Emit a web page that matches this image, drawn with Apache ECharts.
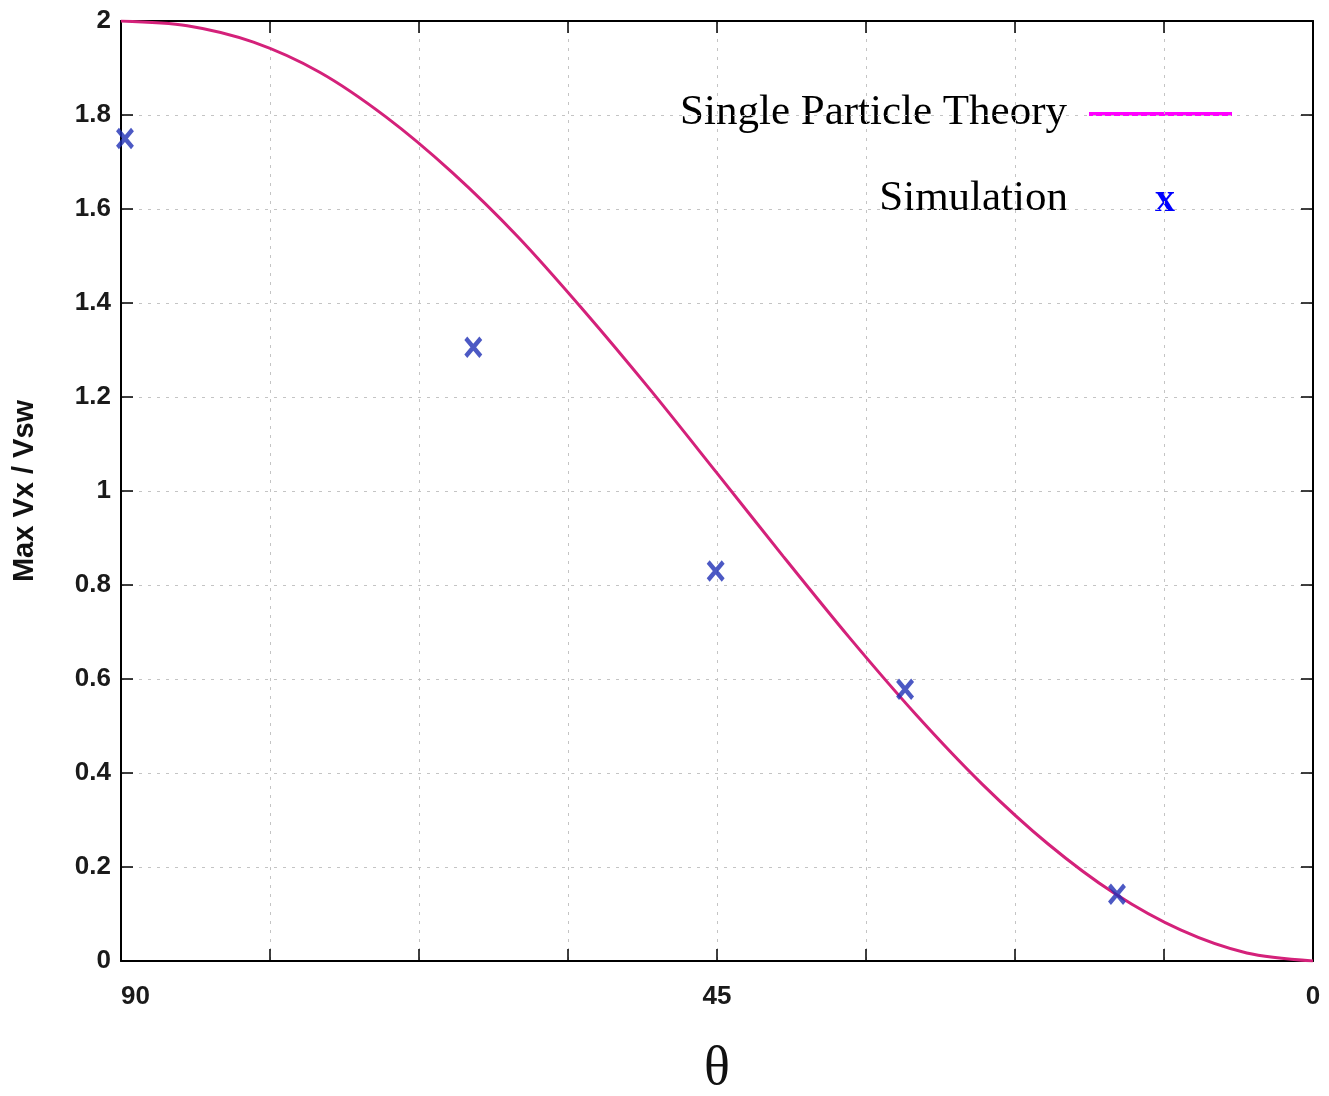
<!DOCTYPE html>
<html>
<head>
<meta charset="utf-8">
<title>Max Vx / Vsw vs theta</title>
<script src="https://cdn.jsdelivr.net/npm/echarts@6/dist/echarts.min.js"></script>
<style>
	html, body { margin: 0; padding: 0; background: #fff; }
	#container { width: 1329px; height: 1096px; }
</style>
</head>
<body>
<div id="container"></div>
<script>
// theory curve (theta in degrees)
var thetaTheory = [90, 85, 80, 75, 70, 65, 60, 55, 50, 45, 40, 35, 30, 25, 20, 15, 10, 5, 0];
var vTheory = [2.0, 1.99, 1.955, 1.891, 1.796, 1.678, 1.54, 1.382, 1.214, 1.038, 0.861, 0.688, 0.525, 0.377, 0.249, 0.144, 0.066, 0.017, 0.0];

// simulation points
var thetaSim = [89.7, 63.4, 45.1, 30.8, 14.8];
var vSim = [1.75, 1.306, 0.83, 0.578, 0.142];

// x tick labels that are shown
var xTickLabels = ['90', '45', '0'];

var dom = document.getElementById('container');
var myChart = echarts.init(dom, null, { renderer: 'canvas' });

var theoryData = [];
for (var i = 0; i < thetaTheory.length; i++) {
	theoryData.push([thetaTheory[i], vTheory[i]]);
}
var simData = [];
for (var j = 0; j < thetaSim.length; j++) {
	simData.push([thetaSim[j], vSim[j]]);
}

var labelFont = {
	fontFamily: 'Liberation Sans',
	fontWeight: 'bold',
	fontSize: 26,
	color: '#1a1a1a'
};
var gridLine = {
	show: true,
	lineStyle: { color: '#c4c4c4', width: 1, type: [3, 6] }
};
var frameLine = { show: true, onZero: false, lineStyle: { color: '#000', width: 2 } };
var innerTick = { show: true, inside: true, length: 12, lineStyle: { color: '#000', width: 1.5 } };

var option = {
	animation: false,
	backgroundColor: '#fff',
	grid: { left: 121, right: 16, top: 21, bottom: 135, outerBoundsMode: 'none' },
	xAxis: [{
		type: 'value',
		min: 0, max: 90, interval: 11.25,
		inverse: true,
		position: 'bottom',
		name: 'θ',
		nameLocation: 'middle',
		nameGap: 82,
		nameTextStyle: { fontFamily: 'Liberation Serif', fontSize: 54, color: '#111' },
		axisLine: frameLine,
		axisTick: innerTick,
		splitLine: gridLine,
		axisLabel: {
			margin: 23,
			alignMaxLabel: 'left',
			alignMinLabel: 'center',
			fontFamily: labelFont.fontFamily,
			fontWeight: labelFont.fontWeight,
			fontSize: labelFont.fontSize,
			color: labelFont.color,
			// only 90, 45 and 0 are labelled
			formatter: function(v) {
				var s = String(Math.round(v * 100) / 100);
				return xTickLabels.indexOf(s) > -1 ? s : '';
			}
		}
	}, {
		type: 'value',
		min: 0, max: 90, interval: 11.25,
		inverse: true,
		position: 'top',
		axisLine: frameLine,
		axisTick: innerTick,
		splitLine: { show: false },
		axisLabel: { show: false }
	}],
	yAxis: [{
		type: 'value',
		min: 0, max: 2, interval: 0.2,
		position: 'left',
		name: 'Max Vx / Vsw',
		nameLocation: 'middle',
		nameGap: 82,
		nameTextStyle: { fontFamily: 'Liberation Sans', fontWeight: 'bold', fontSize: 29, color: '#111' },
		axisLine: frameLine,
		axisTick: innerTick,
		splitLine: gridLine,
		axisLabel: {
			margin: 10,
			fontFamily: labelFont.fontFamily,
			fontWeight: labelFont.fontWeight,
			fontSize: labelFont.fontSize,
			color: labelFont.color,
			formatter: function(v) {
				return String(Math.round(v * 10) / 10);
			}
		}
	}, {
		type: 'value',
		min: 0, max: 2, interval: 0.2,
		position: 'right',
		axisLine: frameLine,
		axisTick: innerTick,
		splitLine: { show: false },
		axisLabel: { show: false }
	}],
	series: [{
		name: 'Single Particle Theory',
		type: 'line',
		xAxisIndex: 0, yAxisIndex: 0,
		smooth: 0.3,
		showSymbol: false,
		lineStyle: { color: '#d4217a', width: 3 },
		data: theoryData,
		z: 3
	}, {
		name: 'Simulation',
		type: 'scatter',
		xAxisIndex: 0, yAxisIndex: 0,
		symbol: 'path://M0,0L14,18M14,0L0,18',
		symbolSize: [15, 18],
		itemStyle: { color: 'rgba(0,0,0,0)', borderColor: '#1f2fb5', borderWidth: 4.5 },
		data: simData,
		z: 4
	}],
	// legend drawn by hand: text on the left, sample on the right
	graphic: [{
		type: 'text',
		style: {
			text: 'Single Particle Theory',
			x: 1067, y: 113,
			textAlign: 'right', textVerticalAlign: 'middle',
			font: '43px "Liberation Serif"',
			fill: '#000'
		}
	}, {
		type: 'line',
		shape: { x1: 1089, y1: 114, x2: 1232, y2: 114 },
		style: { stroke: '#ff00ff', lineWidth: 4 }
	}, {
		type: 'text',
		style: {
			text: 'Simulation',
			x: 1068, y: 199,
			textAlign: 'right', textVerticalAlign: 'middle',
			font: '43px "Liberation Serif"',
			fill: '#000'
		}
	}, {
		type: 'text',
		style: {
			text: 'x',
			x: 1165, y: 201,
			textAlign: 'center', textVerticalAlign: 'middle',
			font: 'bold 40px "Liberation Serif"',
			fill: '#0000ff'
		}
	}]
};

if (option && typeof option === 'object') {
	myChart.setOption(option, true);
}
</script>
</body>
</html>
